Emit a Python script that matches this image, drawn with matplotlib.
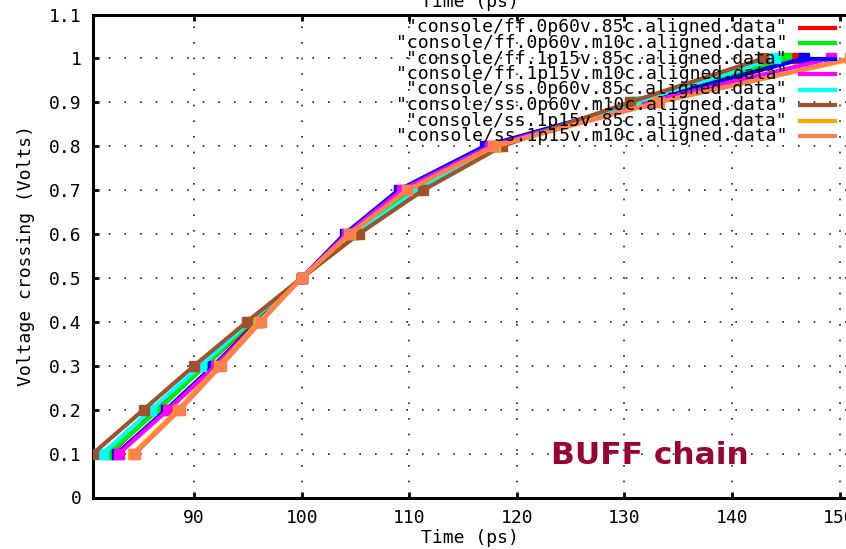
import matplotlib
matplotlib.use("Agg")
import matplotlib.pyplot as plt
from matplotlib.lines import Line2D

levels = [0.1, 0.2, 0.3, 0.4, 0.5, 0.6, 0.7, 0.8, 0.9, 1.0]

labels = [
    '"console/ff.0p60v.85c.aligned.data"',
    '"console/ff.0p60v.m10c.aligned.data"',
    '"console/ff.1p15v.85c.aligned.data"',
    '"console/ff.1p15v.m10c.aligned.data"',
    '"console/ss.0p60v.85c.aligned.data"',
    '"console/ss.0p60v.m10c.aligned.data"',
    '"console/ss.1p15v.85c.aligned.data"',
    '"console/ss.1p15v.m10c.aligned.data"',
]
colors = ["#ff0000", "#00ee00", "#0000ff", "#ff00ff", "#00ffff", "#a0522d", "#ffa500", "#ff7f50"]

ff_0p60v_85c  = [82.2, 86.5, 91.0, 95.5, 100.0, 104.8, 110.3, 118.0, 131.5, 146.0]
ff_0p60v_m10c = [82.0, 86.7, 91.0, 95.3, 100.0, 104.8, 110.5, 118.2, 131.0, 145.0]
ff_1p15v_85c  = [82.8, 87.4, 91.8, 95.9, 100.0, 104.0, 109.0, 117.0, 131.5, 146.7]
ff_1p15v_m10c = [83.0, 87.6, 92.0, 96.0, 100.0, 104.2, 109.3, 117.5, 132.0, 149.2]
ss_0p60v_85c  = [81.5, 86.0, 90.6, 95.1, 100.0, 105.0, 110.8, 118.3, 131.0, 144.0]
ss_0p60v_m10c = [80.6, 85.3, 90.0, 94.9, 100.0, 105.3, 111.3, 118.6, 130.5, 142.9]
ss_1p15v_85c  = [84.3, 88.5, 92.3, 96.0, 100.0, 104.5, 109.8, 118.0, 133.0, 151.5]
ss_1p15v_m10c = [84.5, 88.7, 92.5, 96.2, 100.0, 104.4, 109.8, 117.8, 133.2, 151.0]

series = [ff_0p60v_85c, ff_0p60v_m10c, ff_1p15v_85c, ff_1p15v_m10c,
          ss_0p60v_85c, ss_0p60v_m10c, ss_1p15v_85c, ss_1p15v_m10c]

xticks = [90, 100, 110, 120, 130, 140, 150]
yticks = [0, 0.1, 0.2, 0.3, 0.4, 0.5, 0.6, 0.7, 0.8, 0.9, 1.0, 1.1]
ytick_labels = ["0", "0.1", "0.2", "0.3", "0.4", "0.5", "0.6", "0.7", "0.8", "0.9", "1", "1.1"]

W, H = 846, 549
fig = plt.figure(figsize=(W / 100, H / 100), dpi=100)
mono = "DejaVu Sans Mono"

left_px, right_px, top_px, bot_px = 93, 846, 14.5, 497.5
ax = fig.add_axes([left_px / W, 1 - bot_px / H, (right_px - left_px) / W, (bot_px - top_px) / H])
ax.set_xlim(80.6, 150.6)
ax.set_ylim(0, 1.1)

for s in ["left", "bottom", "top"]:
    ax.spines[s].set_linewidth(2.2)
ax.spines["right"].set_visible(False)

ax.set_xticks(xticks)
ax.set_xticklabels([str(t) for t in xticks], family=mono, fontsize=13)
ax.set_yticks(yticks)
ax.set_yticklabels(ytick_labels, family=mono, fontsize=13)
ax.tick_params(direction="in", length=4, width=2, top=True, right=False, pad=8)
ax.grid(True, color="#222222", linestyle=(0, (1, 8.4)), linewidth=1.2)
ax.set_axisbelow(True)

ax.set_xlabel("Time (ps)", family=mono, fontsize=13, labelpad=2)
ax.set_ylabel("Voltage crossing (Volts)", family=mono, fontsize=13, labelpad=10)

fig.text(470 / W, 1 - 7 / H, "Time (ps)", family=mono, fontsize=13, ha="center", va="baseline")

# key
row0, dy = 27.5, 15.5
for i, (lab, c) in enumerate(zip(labels, colors)):
    yp = row0 + i * dy
    fig.text(787 / W, 1 - yp / H, lab, family=mono, fontsize=13, ha="right", va="center", zorder=1)
    fig.add_artist(Line2D([800 / W, 835 / W], [1 - yp / H, 1 - yp / H], color=c, linewidth=3))

for xs, c in zip(series, colors):
    ax.plot(xs, levels, color=c, linewidth=3, marker="s", markersize=7, zorder=3, clip_on=True)

fig.text(650 / W, 1 - 455 / H, "BUFF chain", color="#990033", fontsize=22.5, fontweight="bold",
         family="DejaVu Sans", ha="center", va="center", zorder=4)

fig.savefig("out.png", dpi=100)
